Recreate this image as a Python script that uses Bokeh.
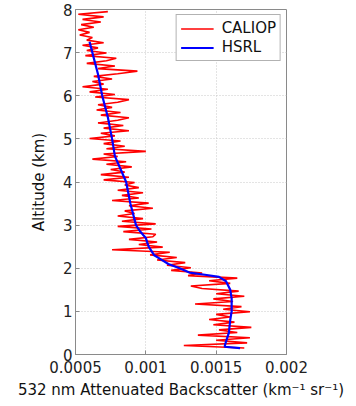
from bokeh.plotting import figure
from bokeh.models import Range1d, FixedTicker, NumeralTickFormatter, Legend, LegendItem
from bokeh.embed import file_html
from bokeh.resources import INLINE

# ---- data -----------------------------------------------------------------
caliop_alt = [0.15, 0.21, 0.27, 0.33, 0.39, 0.45, 0.51, 0.57, 0.63, 0.69,
              0.75, 0.81, 0.87, 0.93, 0.99, 1.05, 1.11, 1.17, 1.23, 1.29,
              1.35, 1.41, 1.47, 1.53, 1.59, 1.65, 1.71, 1.77, 1.83, 1.89,
              1.95, 2.01, 2.07, 2.13, 2.19, 2.25, 2.31, 2.37, 2.43, 2.49,
              2.55, 2.61, 2.67, 2.73, 2.79, 2.85, 2.91, 2.97, 3.03, 3.09,
              3.15, 3.21, 3.27, 3.33, 3.39, 3.45, 3.51, 3.57, 3.63, 3.69,
              3.75, 3.81, 3.87, 3.93, 3.99, 4.05, 4.11, 4.17, 4.23, 4.29,
              4.35, 4.41, 4.47, 4.53, 4.59, 4.65, 4.71, 4.77, 4.83, 4.89,
              4.95, 5.01, 5.07, 5.13, 5.19, 5.25, 5.31, 5.37, 5.43, 5.49,
              5.55, 5.61, 5.67, 5.73, 5.79, 5.85, 5.91, 5.97, 6.03, 6.09,
              6.15, 6.21, 6.27, 6.33, 6.39, 6.45, 6.51, 6.57, 6.63, 6.69,
              6.75, 6.81, 6.87, 6.93, 6.99, 7.05, 7.11, 7.17, 7.23, 7.29,
              7.35, 7.41, 7.47, 7.53, 7.59, 7.65, 7.71, 7.77, 7.83, 7.89,
              7.95]
caliop_bsc = [0.00170, 0.00127, 0.00172, 0.00150, 0.00174, 0.00137, 0.00165, 0.00152, 0.00175, 0.00148,
              0.00163, 0.00145, 0.00160, 0.00150, 0.00174, 0.00155, 0.00168, 0.00135, 0.00162, 0.00148,
              0.00170, 0.00150, 0.00166, 0.00140, 0.00132, 0.00160, 0.00145, 0.00165, 0.00130, 0.00140,
              0.00118, 0.00132, 0.00115, 0.00128, 0.00108, 0.00122, 0.00103, 0.00117, 0.00076, 0.00112,
              0.00095, 0.00108, 0.00088, 0.00105, 0.00107, 0.00084, 0.00104, 0.00080, 0.00107, 0.00083,
              0.00098, 0.00080, 0.00092, 0.00085, 0.00105, 0.00088, 0.00102, 0.00076, 0.00095, 0.00083,
              0.00098, 0.00080, 0.00095, 0.00085, 0.00092, 0.00070, 0.00088, 0.00068, 0.00085, 0.00075,
              0.00090, 0.00072, 0.00086, 0.00062, 0.00080, 0.00070, 0.00100, 0.00072, 0.00085, 0.00070,
              0.00082, 0.00060, 0.00078, 0.00068, 0.00088, 0.00070, 0.00084, 0.00066, 0.00080, 0.00088,
              0.00068, 0.00082, 0.00065, 0.00076, 0.00066, 0.00080, 0.00088, 0.00064, 0.00078, 0.00060,
              0.00073, 0.00055, 0.00070, 0.00062, 0.00076, 0.00063, 0.00080, 0.00094, 0.00066, 0.00078,
              0.00058, 0.00072, 0.00079, 0.00057, 0.00072, 0.00058, 0.00066, 0.00055, 0.00070, 0.00058,
              0.00062, 0.00053, 0.00060, 0.00052, 0.00063, 0.00054, 0.00068, 0.00055, 0.00070, 0.00052,
              0.00073]

hsrl_alt = [0.15, 0.18, 0.3, 0.5, 0.8, 1.0, 1.3, 1.5, 1.7, 1.8, 1.85, 1.9, 2.0, 2.1,
            2.2, 2.3, 2.5, 2.7, 2.85, 3.0, 3.5, 4.0, 4.3, 4.6, 5.0, 5.5, 6.0, 6.5,
            7.0, 7.25]
hsrl_bsc = [0.00167, 0.00156, 0.00157, 0.00159, 0.00160, 0.00161, 0.00161, 0.00160,
            0.00157, 0.00152, 0.00142, 0.00131, 0.00124, 0.00116, 0.00111, 0.00106,
            0.00102, 0.00100, 0.00096, 0.00093, 0.00089, 0.00086, 0.00082, 0.00078,
            0.00076, 0.00073, 0.00069, 0.00066, 0.00062, 0.00060]

x_ticks = [0.0005, 0.001, 0.0015, 0.002]
y_ticks = [0, 1, 2, 3, 4, 5, 6, 7, 8]
series_names = ["CALIOP", "HSRL"]

FONT = "DejaVu Sans"
GRID = "#c8c8c8"
AXC = "#8a8a8a"

p = figure(frame_width=211, frame_height=345,
           min_border_left=75, min_border_right=62, min_border_top=9, min_border_bottom=10,
           x_range=Range1d(0.0005, 0.002), y_range=Range1d(0, 8),
           output_backend="svg", toolbar_location=None, tools="")

p.background_fill_color = "white"
p.border_fill_color = "white"
p.outline_line_color = AXC

r1 = p.line(caliop_bsc, caliop_alt, line_color="#ff0000", line_width=1.6)
r2 = p.line(hsrl_bsc, hsrl_alt, line_color="#0000ff", line_width=2.2)

# axes
xa = p.xaxis[0]
ya = p.yaxis[0]
xa.ticker = FixedTicker(ticks=x_ticks)
ya.ticker = FixedTicker(ticks=y_ticks)
xa.formatter = NumeralTickFormatter(format="0.[0000]")
xa.axis_label = "532 nm Attenuated Backscatter (km\u207b\u00b9 sr\u207b\u00b9)"
ya.axis_label = "Altitude (km)"
for ax in (xa, ya):
    ax.axis_line_color = AXC
    ax.major_tick_line_color = AXC
    ax.major_tick_in = 4
    ax.major_tick_out = 0
    ax.minor_tick_line_color = None
    ax.major_label_text_font = FONT
    ax.major_label_text_font_size = "15px"
    ax.major_label_text_color = "#222222"
    ax.axis_label_text_font = FONT
    ax.axis_label_text_font_size = "15px"
    ax.axis_label_text_font_style = "normal"
    ax.axis_label_text_color = "#111111"
xa.major_label_standoff = 6
xa.axis_label_standoff = 5
ya.major_label_standoff = 3
ya.axis_label_standoff = 12

p.xgrid.ticker = FixedTicker(ticks=x_ticks)
p.ygrid.ticker = FixedTicker(ticks=y_ticks)
for g in (p.xgrid, p.ygrid):
    g.grid_line_color = GRID
    g.grid_line_dash = "1 2"
    g.grid_line_width = 1

legend = Legend(items=[LegendItem(label=series_names[0], renderers=[r1]),
                       LegendItem(label=series_names[1], renderers=[r2])],
                location="top_right", margin=5, padding=4, spacing=1,
                glyph_width=33, glyph_height=17, label_height=17, label_standoff=8,
                label_text_font=FONT, label_text_font_size="15px",
                label_text_color="#111111",
                border_line_color="#666666", border_line_width=1,
                background_fill_color="white", background_fill_alpha=1)
p.add_layout(legend)

open("out.html", "w").write(file_html(p, INLINE))
